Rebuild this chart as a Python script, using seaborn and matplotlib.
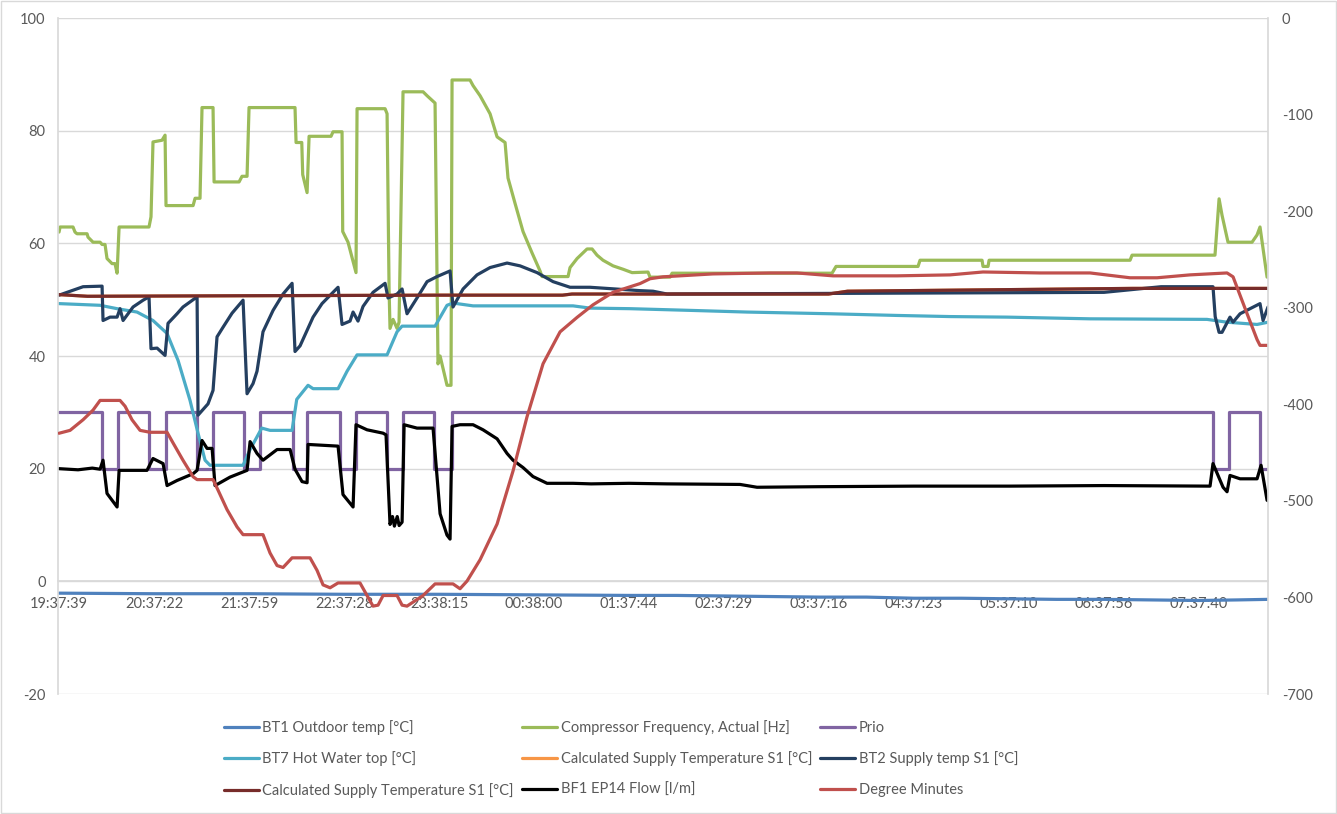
import matplotlib
matplotlib.use("Agg")
import matplotlib.pyplot as plt
import seaborn as sns
from matplotlib.patches import Rectangle

sns.set_theme(style="white")
plt.rcParams['font.family'] = ['Lato', 'DejaVu Sans']
plt.rcParams['axes.unicode_minus'] = False

# ---------------- data (x = hours since 19:37:39, one tick label per hour) ----------------
time_labels = ["19:37:39", "20:37:22", "21:37:59", "22:37:28", "23:38:15", "00:38:00", "01:37:44",
               "02:37:29", "03:37:16", "04:37:23", "05:37:10", "06:37:56", "07:37:40"]

bt1_t = [0, 1.0, 2.0, 3.0, 4.0, 5.0, 6.0, 6.5, 7.0, 7.5, 8.0, 8.5, 9.0, 9.5, 10.0, 10.5, 11.0, 11.5, 12.0, 12.4, 12.726]
bt1_v = [-2.1, -2.2, -2.2, -2.3, -2.3, -2.4, -2.5, -2.5, -2.6, -2.7, -2.8, -2.8, -3.0, -3.0, -3.1, -3.2, -3.2, -3.3, -3.4, -3.3, -3.2]

comp_t = [0, 0.011, 0.147, 0.168, 0.189, 0.295, 0.305, 0.358, 0.432, 0.453, 0.484, 0.505, 0.558, 0.589, 0.611, 0.632,
          0.947, 0.968, 0.989, 1.084, 1.116, 1.126, 1.411, 1.432, 1.484, 1.505, 1.621, 1.632, 1.895, 1.926, 1.979, 2.000,
          2.484, 2.495, 2.555, 2.565, 2.611, 2.632, 2.863, 2.884, 2.979, 2.986, 3.042, 3.126, 3.137, 3.432, 3.453, 3.474,
          3.484, 3.516, 3.558, 3.579, 3.621, 3.832, 3.874, 3.958, 3.989, 4.011, 4.084, 4.126, 4.137, 4.326, 4.358, 4.432,
          4.537, 4.611, 4.695, 4.726, 4.800, 4.884, 4.979, 5.063, 5.084, 5.358, 5.379, 5.453, 5.558, 5.611, 5.663, 5.726,
          5.832, 5.937, 6.032, 6.200, 6.221, 6.432, 6.453, 8.137, 8.179, 9.042, 9.063, 9.716, 9.726, 9.779, 9.790, 11.274,
          11.295, 12.168, 12.211, 12.242, 12.305, 12.558, 12.611, 12.642, 12.716, 12.726]
comp_v = [62.0, 62.9, 62.9, 62.0, 61.7, 61.7, 61.1, 60.2, 60.2, 59.8, 59.8, 57.3, 56.4, 56.4, 54.7, 62.9,
          62.9, 64.7, 78.0, 78.3, 79.2, 66.7, 66.7, 68.0, 68.0, 84.1, 84.1, 70.9, 70.9, 71.9, 71.9, 84.1,
          84.1, 77.9, 77.9, 72.2, 69.0, 79.0, 79.0, 79.8, 79.8, 62.1, 60.2, 54.8, 83.9, 83.9, 83.0, 51.9,
          44.9, 46.5, 44.9, 46.0, 86.9, 86.9, 86.2, 84.9, 38.6, 40.0, 34.8, 34.8, 89.0, 89.0, 88.0, 86.2,
          83.0, 78.9, 77.9, 71.6, 67.1, 62.1, 58.3, 55.1, 54.1, 54.1, 55.7, 57.3, 59.0, 59.0, 57.9, 57.0,
          56.0, 55.4, 54.8, 54.9, 54.0, 54.0, 54.7, 54.7, 55.9, 55.9, 57.0, 57.0, 55.9, 55.9, 57.0, 57.0,
          57.9, 57.9, 67.9, 65.0, 60.2, 60.2, 61.5, 62.9, 54.0, 54.0]

prio_t = [0, 0.449, 0.621, 0.947, 1.126, 1.453, 1.621, 1.947, 2.116, 2.463, 2.611, 2.958, 3.126, 3.453,
          3.621, 3.947, 4.137, 12.147, 12.316, 12.642, 12.726]
prio_v = [30, 20, 30, 20, 30, 20, 30, 20, 30, 20, 30, 20, 30, 20, 30, 20, 30, 20, 30, 20, 20]

bt7_t = [0, 0.432, 0.611, 0.821, 0.989, 1.137, 1.253, 1.379, 1.463, 1.537, 1.589, 1.937, 2.011, 2.134, 2.221, 2.453,
         2.502, 2.621, 2.674, 2.937, 3.032, 3.137, 3.453, 3.558, 3.611, 3.958, 4.084, 4.147, 4.358, 5.411, 5.589,
         6.011, 6.642, 7.242, 8.116, 8.821, 9.379, 9.979, 10.853, 12.084, 12.295, 12.611, 12.726]
bt7_v = [49.3, 49.0, 48.4, 47.8, 46.3, 44.0, 39.2, 32.1, 26.3, 21.5, 20.6, 20.6, 23.4, 27.2, 26.8, 26.8,
         32.3, 34.8, 34.2, 34.2, 37.3, 40.2, 40.2, 44.3, 45.3, 45.3, 49.0, 49.4, 48.9, 48.9, 48.5,
         48.4, 48.1, 47.8, 47.5, 47.2, 47.0, 46.9, 46.6, 46.5, 46.0, 45.6, 46.0]

calc_t = [0, 0.3, 2.0, 4.0, 5.3, 5.4, 8.1, 8.3, 9.5, 11.3, 12.726]
calc_v = [50.9, 50.6, 50.7, 50.8, 50.8, 51.0, 51.0, 51.5, 51.7, 52.0, 52.0]

bt2_t = [0, 0.253, 0.453, 0.463, 0.537, 0.611, 0.642, 0.674, 0.779, 0.884, 0.947, 0.968, 1.032, 1.116, 1.147,
         1.242, 1.305, 1.453, 1.463, 1.568, 1.621, 1.663, 1.726, 1.821, 1.937, 1.979, 2.042, 2.084, 2.147, 2.253,
         2.358, 2.453, 2.484, 2.537, 2.674, 2.768, 2.884, 2.937, 2.979, 3.063, 3.095, 3.147, 3.200, 3.305, 3.432,
         3.463, 3.558, 3.611, 3.663, 3.768, 3.874, 3.979, 4.116, 4.147, 4.253, 4.400, 4.537, 4.716, 4.853, 5.032,
         5.200, 5.379, 5.589, 6.116, 6.253, 6.400, 11.0, 11.6, 12.147, 12.170, 12.211, 12.242, 12.326, 12.358,
         12.432, 12.642, 12.674, 12.726]
bt2_v = [50.8, 52.3, 52.4, 46.3, 46.9, 46.9, 48.4, 46.3, 48.7, 49.9, 50.5, 41.3, 41.4, 40.1, 45.8,
         47.5, 48.7, 50.5, 29.5, 31.5, 33.9, 43.4, 45.1, 47.6, 49.9, 33.3, 35.1, 37.3, 44.3, 48.1,
         51.0, 52.9, 40.8, 41.8, 46.9, 49.3, 51.3, 52.2, 45.6, 46.2, 47.8, 46.2, 48.8, 51.3, 52.9,
         50.3, 51.0, 51.9, 47.5, 50.3, 53.2, 54.1, 55.1, 48.7, 51.9, 54.4, 55.7, 56.5, 56.0, 54.8,
         53.2, 52.2, 52.2, 51.6, 51.5, 51.0, 51.3, 52.3, 52.3, 47.0, 44.2, 44.2, 46.9, 46.0,
         47.5, 49.3, 46.3, 48.7]

bf1_t = [0, 0.2, 0.35, 0.432, 0.463, 0.505, 0.558, 0.611, 0.632, 0.926, 0.989, 1.095, 1.137, 1.242, 1.411, 1.453,
         1.505, 1.558, 1.611, 1.642, 1.800, 1.979, 2.011, 2.084, 2.147, 2.295, 2.432, 2.484, 2.558, 2.611, 2.621,
         2.937, 2.989, 3.095, 3.126, 3.242, 3.411, 3.442, 3.484, 3.510, 3.530, 3.560, 3.580, 3.611, 3.632, 3.768,
         3.937, 4.011, 4.084, 4.116, 4.137, 4.221, 4.358, 4.463, 4.611, 4.716, 4.779, 4.884, 4.989, 5.137, 5.411,
         5.6, 6.0, 6.4, 7.168, 7.347, 8.0, 9.0, 10.0, 11.0, 12.116, 12.147, 12.253, 12.295, 12.326, 12.432,
         12.611, 12.653, 12.716, 12.726]
bf1_v = [20.0, 19.8, 20.1, 19.9, 21.5, 15.6, 14.4, 13.2, 19.7, 19.7, 21.8, 20.9, 17.0, 17.9, 19.1, 19.7,
         25.0, 23.6, 23.6, 17.0, 18.5, 19.7, 24.8, 22.7, 21.5, 23.4, 23.4, 19.9, 17.7, 17.5, 24.3,
         24.0, 15.4, 13.2, 27.8, 26.9, 26.3, 26.0, 10.1, 11.5, 9.8, 11.5, 9.9, 10.5, 27.8, 27.2,
         27.2, 12.0, 8.2, 7.5, 27.5, 27.8, 27.8, 26.9, 25.3, 22.7, 21.5, 20.2, 18.6, 17.4, 17.4,
         17.3, 17.4, 17.3, 17.2, 16.7, 16.8, 16.9, 16.9, 17.0, 16.9, 20.9, 16.7, 15.9, 18.8, 18.2,
         18.2, 20.6, 14.4, 14.3]

dm_t = [0, 0.116, 0.253, 0.358, 0.432, 0.642, 0.695, 0.768, 0.853, 0.958, 1.137, 1.200, 1.305, 1.411, 1.453,
        1.621, 1.674, 1.768, 1.874, 1.937, 2.147, 2.221, 2.295, 2.358, 2.453, 2.642, 2.716, 2.779, 2.853, 2.937,
        3.168, 3.242, 3.305, 3.358, 3.411, 3.558, 3.611, 3.663, 3.832, 3.958, 4.147, 4.221, 4.295, 4.432, 4.611,
        4.779, 4.926, 5.095, 5.274, 5.453, 5.621, 5.832, 6.116, 6.221, 6.358, 6.884, 7.484, 7.768, 8.147, 8.821,
        9.379, 9.726, 10.326, 10.853, 11.274, 11.558, 11.905, 12.295, 12.358, 12.505, 12.611, 12.642, 12.726]
dm_v = [-430, -427, -416, -406, -396, -396, -402, -416, -427, -429, -429, -440, -458, -475, -478,
        -478, -489, -509, -527, -535, -535, -554, -567, -569, -559, -559, -572, -587, -590, -585,
        -585, -598, -609, -608, -598, -598, -608, -609, -598, -586, -586, -591, -583, -561, -524,
        -469, -413, -358, -325, -310, -297, -284, -275, -270, -268, -265, -264, -264, -267, -267,
        -266, -263, -264, -264, -269, -269, -266, -264, -268, -306, -333, -339, -339]

names = ["BT1 Outdoor temp [°C]", "Compressor Frequency, Actual [Hz]", "Prio", "BT7 Hot Water top [°C]",
         "Calculated Supply Temperature S1 [°C]", "BT2 Supply temp S1 [°C]",
         "Calculated Supply Temperature S1 [°C]", "BF1 EP14 Flow [l/m]", "Degree Minutes"]
colors = ["#4F81BD", "#9BBB59", "#8064A2", "#4BACC6", "#F79646", "#243F60", "#772C2A", "#000000", "#C0504D"]

# ---------------- figure ----------------
W, H = 1337, 814
fig = plt.figure(figsize=(W / 100, H / 100), dpi=100)
fig.patch.set_facecolor("white")
ax = fig.add_axes([58 / W, 1 - 694 / H, 1210 / W, 676 / H])
ax2 = ax.twinx()

series = [(bt1_t, bt1_v, ax), (comp_t, comp_v, ax), (prio_t, prio_v, ax), (bt7_t, bt7_v, ax),
          (calc_t, calc_v, ax), (bt2_t, bt2_v, ax), (calc_t, calc_v, ax), (bf1_t, bf1_v, ax),
          (dm_t, dm_v, ax2)]
handles = []
for i, ((t, v, a), name, c) in enumerate(zip(series, names, colors)):
    kw = dict(drawstyle="steps-post") if i == 2 else {}
    sns.lineplot(x=t, y=v, ax=a, color=c, linewidth=2.3, estimator=None, sort=False,
                 legend=False, **kw)
    line = a.lines[-1]
    line.set_label(name)
    line.set_solid_joinstyle("round")
    handles.append(line)

ax.set_xlim(-0.011, 12.726)
ax.set_ylim(-20, 100)
ax.set_yticks(range(-20, 101, 20))
ax2.set_ylim(-700, 0)
ax2.set_yticks(range(-700, 1, 100))
ax.set_xticks(range(len(time_labels)))
ax.set_xticklabels(time_labels)
ax.set_xlabel("")
ax.set_ylabel("")
ax2.set_ylabel("")

grid_c = "#D9D9D9"
txt_c = "#595959"
ax.yaxis.grid(True, color=grid_c, linewidth=1.0)
ax.xaxis.grid(False)
ax2.grid(False)
ax.set_axisbelow(True)

ax.spines["bottom"].set_position(("data", 0))
ax.spines["bottom"].set_color(grid_c)
ax.spines["left"].set_color(grid_c)
ax.spines["top"].set_visible(False)
ax.spines["right"].set_visible(False)
for s in ["top", "bottom", "left"]:
    ax2.spines[s].set_visible(False)
ax2.spines["right"].set_color(grid_c)

ax.tick_params(axis="x", length=0, pad=11, labelsize=10.5, colors=txt_c)
ax.tick_params(axis="y", length=0, pad=9, labelsize=10.5, colors=txt_c)
ax2.tick_params(axis="y", length=0, pad=10, labelsize=10.5, colors=txt_c)

order = [0, 3, 6, 1, 4, 7, 2, 5, 8]
leg = fig.legend([handles[i] for i in order], [names[i] for i in order], ncol=3, loc="center",
                 bbox_to_anchor=(621 / W, 1 - 759 / H), frameon=False, fontsize=10.5,
                 handlelength=2.4, handletextpad=0.25, columnspacing=0.55, labelspacing=1.12)
for tx in leg.get_texts():
    tx.set_color(txt_c)

fig.patches.append(Rectangle((0.0008, 0.0012), 0.9984, 0.9976, transform=fig.transFigure,
                             fill=False, edgecolor=grid_c, linewidth=1.0))

fig.savefig("out.png", dpi=100)
